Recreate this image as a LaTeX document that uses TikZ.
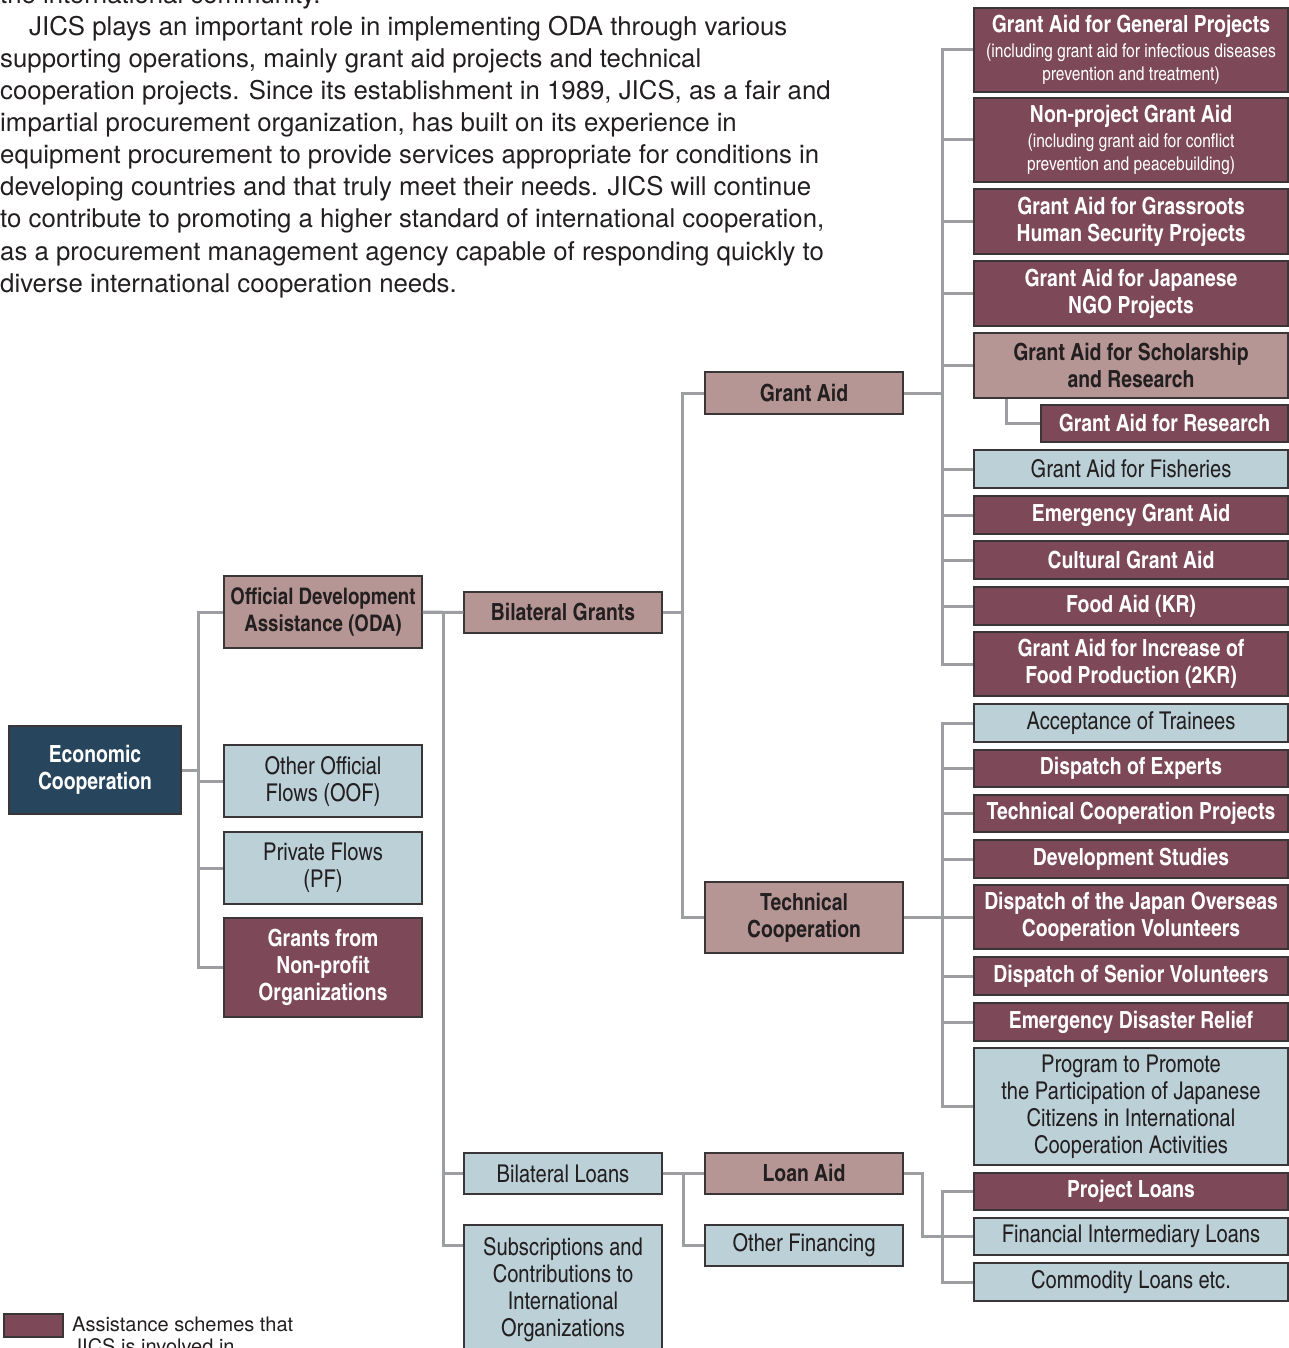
\documentclass[tikz,border=0pt]{standalone}
\usepackage{fontspec}
\setmainfont{texgyreheroscn}[Extension=.otf, UprightFont=*-regular, BoldFont=*-bold, ItalicFont=*-italic, BoldItalicFont=*-bolditalic]
\newfontfamily\widefont{texgyreheros}[Extension=.otf, UprightFont=*-regular, BoldFont=*-bold]
\definecolor{maroon}{HTML}{7D4959}
\definecolor{rose}{HTML}{B59694}
\definecolor{lblue}{HTML}{BBD0D7}
\definecolor{navy}{HTML}{27465D}
\definecolor{linegray}{HTML}{9C9EA1}
\definecolor{boxline}{HTML}{3A3536}
\definecolor{textdark}{HTML}{231F20}
\newcommand\bfn{\fontsize{23.6}{27}\selectfont\bfseries}
\newcommand\rgn{\fontsize{24.5}{27}\selectfont\mdseries}
\newcommand\smn{\fontsize{19}{23}\selectfont\mdseries}
\newcommand\parfont{\widefont\fontsize{25.8}{32}\selectfont}
\newcommand\legfont{\widefont\fontsize{20}{22}\selectfont}
\begin{document}
\begin{tikzpicture}[x=1pt,y=-1pt,
  base/.style={draw=boxline, line width=1.3pt, inner sep=0pt, align=center},
  jics/.style={base, fill=maroon, text=white, font=\bfn},
  mid/.style={base, fill=rose, text=textdark, font=\bfn},
  light/.style={base, fill=lblue, text=textdark, font=\rgn},
  ecbox/.style={base, fill=navy, text=white, font=\bfn},
  R/.style={minimum width=314pt},
  M/.style={minimum width=198pt},
  conn/.style={draw=linegray, line width=3pt},
  para/.style={anchor=base west, inner sep=0pt, text=textdark, font=\parfont}]
\useasboundingbox (0,0) rectangle (1289,1348);

% paragraph
\node[para] (p0) at (0,4) {the international community.};
\node[para] (p1) at (29,36) {JICS plays an important role in implementing ODA through various};
\node[para] (p2) at (0,68) {supporting operations, mainly grant aid projects and technical};
\node[para] (p3) at (0,100) {cooperation projects. Since its establishment in 1989, JICS, as a fair and};
\node[para] (p4) at (0,132) {impartial procurement organization, has built on its experience in};
\node[para] (p5) at (0,164) {equipment procurement to provide services appropriate for conditions in};
\node[para] (p6) at (0,196) {developing countries and that truly meet their needs. JICS will continue};
\node[para] (p7) at (0,228) {to contribute to promoting a higher standard of international cooperation,};
\node[para] (p8) at (0,260) {as a procurement management agency capable of responding quickly to};
\node[para] (p9) at (0,292) {diverse international cooperation needs.};

% right column
\node[jics,R,minimum height=84pt,font=\smn] (gp) at (1131,50) {{\bfn Grant Aid for General Projects}\\[2pt](including grant aid for infectious diseases\\prevention and treatment)};
\node[jics,R,minimum height=84pt,font=\smn] (np) at (1131,140) {{\bfn Non-project Grant Aid}\\[2pt](including grant aid for conflict\\prevention and peacebuilding)};
\node[jics,R,minimum height=65pt] (gr) at (1131,221.5) {Grant Aid for Grassroots\\Human Security Projects};
\node[jics,R,minimum height=65pt] (ngo) at (1131,293.5) {Grant Aid for Japanese\\NGO Projects};
\node[mid,R,minimum height=65pt] (sch) at (1131,365.5) {Grant Aid for Scholarship\\and Research};
\node[jics,minimum width=247pt,minimum height=37pt] (res) at (1164.5,423.5) {Grant Aid for Research};
\node[light,R,minimum height=38pt] (fish) at (1131,469) {Grant Aid for Fisheries};
\node[jics,R,minimum height=38pt] (emg) at (1131,515) {Emergency Grant Aid};
\node[jics,R,minimum height=38pt] (cult) at (1131,560) {Cultural Grant Aid};
\node[jics,R,minimum height=38pt] (food) at (1131,606) {Food Aid (KR)};
\node[jics,R,minimum height=64pt] (kr2) at (1131,664) {Grant Aid for Increase of\\Food Production (2KR)};
\node[light,R,minimum height=38pt] (acc) at (1131,723) {Acceptance of Trainees};
\node[jics,R,minimum height=37pt] (exp) at (1131,768.5) {Dispatch of Experts};
\node[jics,R,minimum height=37pt] (tcp) at (1131,813.5) {Technical Cooperation Projects};
\node[jics,R,minimum height=38pt] (dev) at (1131,859) {Development Studies};
\node[jics,R,minimum height=64pt] (jocv) at (1131,917) {Dispatch of the Japan Overseas\\Cooperation Volunteers};
\node[jics,R,minimum height=38pt] (sv) at (1131,976) {Dispatch of Senior Volunteers};
\node[jics,R,minimum height=38pt] (edr) at (1131,1022) {Emergency Disaster Relief};
\node[light,R,minimum height=117pt] (prog) at (1131,1106.5) {Program to Promote\\the Participation of Japanese\\Citizens in International\\Cooperation Activities};
\node[jics,R,minimum height=37pt] (pl) at (1131,1191.5) {Project Loans};
\node[light,R,minimum height=37pt] (fil) at (1131,1236.5) {Financial Intermediary Loans};
\node[light,R,minimum height=38pt] (cl) at (1131,1282) {Commodity Loans etc.};

% middle column
\node[mid,M,minimum height=42pt] (ga) at (804,393) {Grant Aid};
\node[mid,M,minimum height=71pt] (tc) at (804,917.5) {Technical\\Cooperation};
\node[mid,M,minimum height=41pt] (la) at (804,1173.5) {Loan Aid};
\node[light,M,minimum height=41pt] (of) at (804,1245.5) {Other Financing};

% third column
\node[mid,M,minimum height=41pt] (bg) at (563,612.5) {Bilateral Grants};
\node[light,M,minimum height=41pt] (bl) at (563,1173.5) {Bilateral Loans};
\node[light,M,minimum height=130pt] (sub) at (563,1290) {Subscriptions and\\Contributions to\\International\\Organizations};

% second column
\node[mid,M,minimum height=72pt,font=\fontsize{22.8}{27}\selectfont\bfseries] (oda) at (323,612) {Official Development\\Assistance (ODA)};
\node[light,M,minimum height=72pt] (oof) at (323,781) {Other Official\\Flows (OOF)};
\node[light,M,minimum height=72pt] (pf) at (323,868) {Private Flows\\(PF)};
\node[jics,M,minimum height=99pt] (npo) at (323,967.5) {Grants from\\Non-profit\\Organizations};

% root
\node[ecbox,minimum width=172pt,minimum height=88pt] (ec) at (95,770) {Economic\\Cooperation};

% legend
\node[base, fill=maroon, minimum width=59pt, minimum height=23pt] (leg) at (33.5,1325.5) {};
\node[anchor=base west, inner sep=0pt, align=left, text=textdark, font=\legfont] (legt) at (72,1353) {Assistance schemes that\\JICS is involved in};

% connectors
\draw[conn] (ec.east) -- ++(18,0);
\draw[conn] (oda.west) -- ++(-25,0) |- (npo.west);
\draw[conn] (oof.west) -- ++(-25,0);
\draw[conn] (pf.west) -- ++(-25,0);

\draw[conn] (oda.east) -- (bg.west);
\draw[conn] (oda.east) -- ++(21,0) |- ([yshift=-21pt]sub.north west);
\draw[conn] (bl.west) -- ++(-21,0);

\draw[conn] (bg.east) -- ++(21,0);
\draw[conn] (ga.west) -- ++(-22,0) |- (tc.west);

\draw[conn] (ga.east) -- ++(40,0);
\draw[conn] (gp.west) -- ++(-31,0) |- (kr2.west);
\foreach \n in {np,gr,ngo,sch,fish,emg,cult,food}
  \draw[conn] (\n.west) -- ++(-31,0);
\draw[conn] ([xshift=33pt]sch.south west) |- (res.west);

\draw[conn] (tc.east) -- ++(40,0);
\draw[conn] (acc.west) -- ++(-31,0) |- (prog.west);
\foreach \n in {exp,tcp,dev,jocv,sv,edr}
  \draw[conn] (\n.west) -- ++(-31,0);

\draw[conn] (bl.east) -- (la.west);
\draw[conn] (bl.east) -- ++(21,0) |- (of.west);
\draw[conn] (la.east) -- ++(19,0) |- (fil.west);
\draw[conn] (pl.west) -- ++(-31,0) |- (cl.west);
\end{tikzpicture}
\end{document}
